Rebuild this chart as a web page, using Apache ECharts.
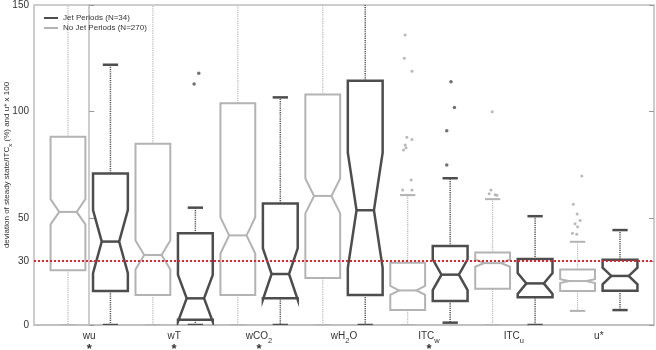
<!DOCTYPE html>
<html>
<head>
<meta charset="utf-8">
<script src="https://cdn.jsdelivr.net/npm/echarts@6/dist/echarts.min.js"></script>
<style>
  html, body { margin: 0; padding: 0; background: #fff; }
  #boxChart { width: 656px; height: 350px; }
</style>
</head>
<body>
<div id="boxChart"></div>
<script>
// 分组名称 (rich 文本, 下标用 s)
var categories = ['{t|wu}', '{t|wT}', '{t|wCO}{s|2}', '{t|wH}{s|2}{t|O}', '{t|ITC}{s|w}', '{t|ITC}{s|u}', '{t|u*}'];
var significant = [true, true, true, false, true, false, false];
var yTicks = [0, 30, 50, 100, 150];
var refLine = 30;

// 每组: [下须, Q1, 缺口下, 中位数, 缺口上, Q3, 上须]
var noJetStats = [
    [0, 25.7, 47.2, 53.0, 59.0, 88.3, 160],
    [0, 14.1, 26.0, 32.8, 39.6, 85.0, 160],
    [0, 14.1, 33.5, 42.0, 50.5, 104.0, 160],
    [0, 22.0, 52.3, 60.5, 68.7, 108.0, 160],
    [0, 7.0, 14.1, 16.2, 18.3, 29.2, 60.9],
    [0, 17.0, 27.3, 29.0, 30.7, 34.0, 59.0],
    [6.6, 15.9, 19.7, 20.6, 21.5, 26.0, 39.0]
];
var jetStats = [
    [0, 15.9, 24.3, 39.1, 53.9, 71.0, 122.0],
    [0, 2.5, 1.5, 12.5, 23.5, 43.0, 55.0],
    [0, 12.5, 11.9, 23.9, 35.9, 57.0, 106.7],
    [0, 14.1, 26.8, 53.8, 80.8, 114.5, 160],
    [1.1, 11.2, 16.4, 23.6, 30.8, 37.0, 68.8],
    [0, 13.0, 14.6, 19.5, 24.4, 30.9, 51.0],
    [7.0, 16.0, 19.1, 23.0, 26.9, 30.6, 44.5]
];

// 离群点 [x位置, 值]
var noJetOutliers = [
    [3.72, 135.9], [3.71, 125], [3.80, 119], [3.74, 88], [3.80, 86.9], [3.72, 84.4],
    [3.73, 83.1], [3.70, 82], [3.79, 68], [3.69, 63.3], [3.80, 63.3],
    [4.745, 100], [4.73, 63.3], [4.71, 61.5], [4.78, 61], [4.80, 60.8],
    [5.80, 69.8], [5.70, 56.6], [5.745, 52], [5.78, 49], [5.72, 47.5], [5.75, 46], [5.69, 43], [5.74, 42.5]
];
var jetOutliers = [
    [1.29, 118], [1.235, 113], [4.26, 114], [4.30, 102], [4.21, 91], [4.21, 75]
];

var noJetName = 'No Jet Periods (N=270)';
var jetName = 'Jet Periods (N=34)';

function makeRender(color, lw, wcolor, ww) {
    return function (params, api) {
        var x = api.value(0);
        var unit = api.size([1, 0])[0];
        var hw = unit * 0.205, nw = hw / 2, cw = unit * 0.09;
        var cx = api.coord([x, 0])[0];
        var y = [];
        for (var i = 1; i <= 7; i++) {
            y.push(api.coord([x, api.value(i)])[1]);
        }
        var L = cx - hw, R = cx + hw;
        var dash = { stroke: wcolor, lineWidth: ww, lineDash: [1.2, 1] };
        var solid = { stroke: color, lineWidth: lw };
        return {
            type: 'group',
            children: [
                { type: 'line', shape: { x1: cx, y1: y[5], x2: cx, y2: y[6] }, style: dash },
                { type: 'line', shape: { x1: cx, y1: y[1], x2: cx, y2: y[0] }, style: dash },
                { type: 'line', shape: { x1: cx - cw, y1: y[6], x2: cx + cw, y2: y[6] }, style: solid },
                { type: 'line', shape: { x1: cx - cw, y1: y[0], x2: cx + cw, y2: y[0] }, style: solid },
                {
                    type: 'polygon',
                    shape: {
                        points: [[L, y[5]], [L, y[4]], [L + nw, y[3]], [L, y[2]], [L, y[1]],
                                 [R, y[1]], [R, y[2]], [R - nw, y[3]], [R, y[4]], [R, y[5]]]
                    },
                    style: { fill: 'none', stroke: color, lineWidth: lw, lineJoin: 'miter' }
                },
                { type: 'line', shape: { x1: L + nw, y1: y[3], x2: R - nw, y2: y[3] }, style: solid }
            ]
        };
    };
}

var myChart = echarts.init(document.getElementById('boxChart'));

option = {
    animation: false,
    textStyle: { fontFamily: 'Liberation Sans, Arial, sans-serif' },
    grid: {
        left: 34, right: 2, top: 5, bottom: 25,
        show: true,
        borderColor: '#bdbdbd',
        borderWidth: 1.5,
        outerBoundsMode: 'none'
    },
    legend: {
        orient: 'vertical',
        left: 39,
        top: 8,
        itemGap: 0,
        itemWidth: 14,
        itemHeight: 2,
        icon: 'rect',
        data: [jetName, noJetName],
        textStyle: { fontSize: 8, color: '#333', lineHeight: 10 }
    },
    xAxis: {
        type: 'value',
        min: -0.65,
        max: 6.65,
        splitLine: { show: false },
        axisLine: { show: true, lineStyle: { color: '#bdbdbd', width: 1.5 } },
        axisTick: { show: false },
        axisLabel: {
            customValues: [0, 1, 2, 3, 4, 5, 6],
            margin: 6,
            formatter: function (v) {
                var i = Math.round(v);
                return categories[i] + (significant[i] ? '\n{st|*}' : '');
            },
            rich: {
                t: { fontSize: 10, color: '#333', verticalAlign: 'top', lineHeight: 13 },
                s: { fontSize: 7.5, color: '#333', verticalAlign: 'top', lineHeight: 9, padding: [6, 0, 0, 0] },
                st: { fontSize: 13, fontWeight: 'bold', color: '#333', lineHeight: 11 }
            }
        }
    },
    yAxis: [{
        type: 'value',
        min: 0,
        max: 150,
        name: '{t|deviation of steady state/ITC}{s|x}{t| (%) and u* x 100}',
        nameLocation: 'middle',
        nameGap: 21,
        nameMoveOverlap: false,
        nameTextStyle: {
            color: '#333',
            rich: {
                t: { fontSize: 8, color: '#333', verticalAlign: 'top', lineHeight: 10 },
                s: { fontSize: 6, color: '#333', verticalAlign: 'top', lineHeight: 7, padding: [4, 0, 0, 0] }
            }
        },
        splitLine: { show: false },
        axisLine: { show: true, lineStyle: { color: '#bdbdbd', width: 1.5 } },
        axisTick: { show: true, inside: true, length: 5, customValues: yTicks, lineStyle: { color: '#999' } },
        axisLabel: { customValues: yTicks, fontSize: 10, color: '#333', margin: 5 }
    }, {
        type: 'value',
        position: 'right',
        min: 0,
        max: 150,
        splitLine: { show: false },
        axisLine: { show: false },
        axisTick: { show: true, inside: true, length: 5, customValues: yTicks, lineStyle: { color: '#999' } },
        axisLabel: { show: false }
    }],
    series: [
        {
            name: noJetName,
            type: 'custom',
            clip: true,
            itemStyle: { color: '#b3b3b3' },
            encode: { x: 0, y: [1, 2, 3, 4, 5, 6, 7] },
            renderItem: makeRender('#b3b3b3', 2, '#b8b8b8', 1.2),
            data: noJetStats.map(function (s, i) { return [i - 0.25].concat(s); })
        },
        {
            name: jetName,
            type: 'custom',
            clip: true,
            itemStyle: { color: '#4d4d4d' },
            encode: { x: 0, y: [1, 2, 3, 4, 5, 6, 7] },
            renderItem: makeRender('#4d4d4d', 2.5, '#555555', 1.5),
            data: jetStats.map(function (s, i) { return [i + 0.25].concat(s); })
        },
        {
            name: noJetName,
            type: 'scatter',
            symbol: 'circle',
            symbolSize: 3,
            itemStyle: { color: '#a8a8a8' },
            data: noJetOutliers
        },
        {
            name: jetName,
            type: 'scatter',
            symbol: 'circle',
            symbolSize: 3.5,
            z: 10,
            itemStyle: { color: '#4d4d4d' },
            data: jetOutliers,
            markLine: {
                silent: true,
                symbol: 'none',
                label: { show: false },
                lineStyle: { color: '#e3232c', type: 'dotted', width: 2 },
                data: [{ yAxis: refLine }]
            }
        }
    ]
};
myChart.clear();
myChart.setOption(option);
</script>
</body>
</html>
